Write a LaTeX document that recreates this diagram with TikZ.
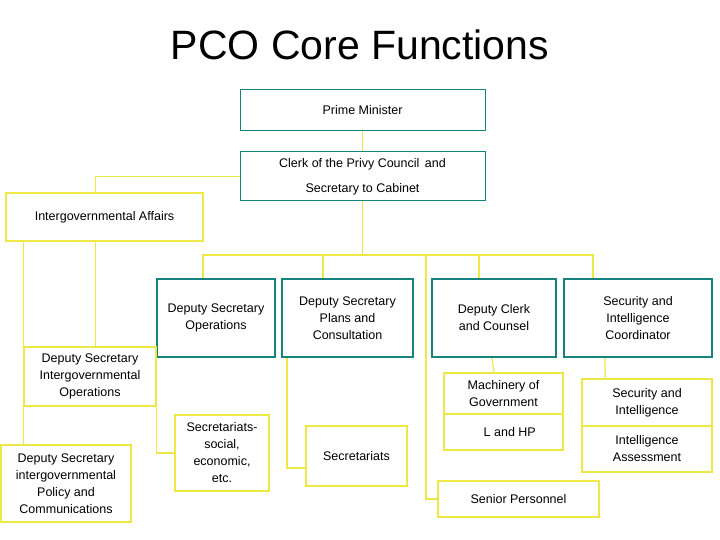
\documentclass[tikz,border=0pt]{standalone}
\usepackage{fontspec}
\setmainfont{Liberation Sans}
\definecolor{ylw}{RGB}{238,232,70}
\definecolor{tl}{RGB}{20,130,125}
\begin{document}
\begin{tikzpicture}[x=1pt,y=-1pt,
  lk/.style={draw=ylw, line width=1.2pt},
  yb/.style={draw=ylw, line width=1.3pt, fill=white, align=center, inner sep=1pt, font=\fontsize{12.5}{17}\selectfont},
  tb/.style={draw=tl, line width=1pt, fill=white, align=center, inner sep=1pt, font=\fontsize{12.5}{17}\selectfont},
  tbb/.style={tb, line width=2.2pt}]
\useasboundingbox (0,0) rectangle (720,540);
\node[font=\fontsize{41}{44}\selectfont] (title) at (360,45) {PCO Core Functions};
\node[tb, minimum width=245, minimum height=41] (pm) at (362.5,110.5) {Prime Minister};
\node[tb, minimum width=245, minimum height=49] (clerk) at (362.5,176.5) {Clerk of the Privy Council\, and\\[8pt]Secretary to Cabinet};
\node[yb, minimum width=197, minimum height=48] (iga) at (104.5,217) {Intergovernmental Affairs};
\node[tbb, minimum width=118, minimum height=78] (dso) at (216,318) {Deputy Secretary\\Operations};
\node[tbb, minimum width=131, minimum height=78] (dsp) at (347.5,318) {Deputy Secretary\\Plans and\\Consultation};
\node[tbb, minimum width=124, minimum height=78] (dc) at (494,318) {Deputy Clerk\\and Counsel};
\node[tbb, minimum width=148, minimum height=78] (sic) at (638,318) {Security and\\Intelligence\\Coordinator};
\node[yb, minimum width=132, minimum height=59] (dsio) at (90,376.5) {Deputy Secretary\\Intergovernmental\\Operations};
\node[yb, minimum width=130, minimum height=77] (dsipc) at (66,483.5) {Deputy Secretary\\intergovernmental\\Policy and\\Communications};
\node[yb, minimum width=94, minimum height=76] (ssec) at (222,453) {Secretariats-\\social,\\economic,\\etc.};
\node[yb, minimum width=101, minimum height=60] (sec) at (356.5,456) {Secretariats};
\node[yb, minimum width=119, minimum height=41] (mog) at (503.5,393.5) {Machinery of\\Government};
\node[yb, minimum width=119, minimum height=36] (lhp) at (503.5,432) {\quad L and HP};
\node[yb, minimum width=161, minimum height=36] (sp) at (518.5,499) {Senior Personnel};
\node[yb, minimum width=130, minimum height=47] (si) at (647,402.5) {Security and\\Intelligence};
\node[yb, minimum width=130, minimum height=46] (ia) at (647,449) {Intelligence\\Assessment};
\coordinate (bus) at (362.5,255);
\draw[lk] (pm.south) -- (clerk.north);
\draw[lk] (clerk.west) -| ([xshift=90pt]iga.north west);
\draw[lk] (clerk.south) -- (bus);
\draw[lk] ([xshift=47pt]dso.north west) |- (bus) -| ([xshift=30pt]sic.north west);
\draw[lk] ([xshift=42pt]dsp.north west) -- ++(0,-24);
\draw[lk] ([xshift=48pt]dc.north west) -- ++(0,-24);
\draw[lk] (426,255) |- (sp.west);
\draw[lk] ([xshift=90pt]iga.south west) -- ([xshift=72pt]dsio.north west);
\draw[lk] ([xshift=18pt]iga.south west) -- ([xshift=23pt]dsipc.north west);
\draw[lk] (dsio.south east) |- (ssec.west);
\draw[lk] ([xshift=6pt]dsp.south west) |- ([yshift=-12pt]sec.west);
\draw[lk] ([xshift=-2pt]dc.south) -- (dc.south |- mog.north);
\draw[lk] ([xshift=42pt]sic.south west) -- ([xshift=24pt]si.north west);
\end{tikzpicture}
\end{document}
